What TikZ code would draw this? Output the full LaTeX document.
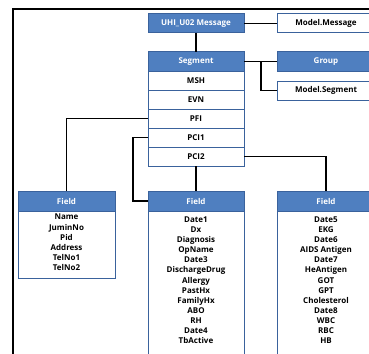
\documentclass[tikz,border=0pt]{standalone}
\usepackage{fontspec}
\setmainfont{Open Sans}
\usetikzlibrary{positioning}
\definecolor{hdrblue}{HTML}{4F7FC0}
\definecolor{edgeblue}{HTML}{3A629C}
\begin{document}
\begin{tikzpicture}[x=1pt,y=-1pt,
  txt/.style={font=\bfseries\fontsize{8}{10.1}\selectfont},
  hdr/.style={txt,draw=edgeblue,line width=1pt,fill=hdrblue,text=white,minimum width=96pt,minimum height=19pt,inner sep=0pt,outer sep=0pt},
  row/.style={txt,draw=edgeblue,line width=1pt,fill=white,minimum width=96pt,minimum height=19pt,inner sep=0pt,outer sep=0pt},
  wide/.style={minimum width=98pt},
  body/.style={draw=edgeblue,line width=1pt,fill=white,minimum width=96pt,inner sep=0pt,outer sep=0pt,anchor=north},
  items/.style={txt,align=center,anchor=north,inner sep=0pt},
  wire/.style={line width=1.6pt}]
\useasboundingbox (0,0) rectangle (369,353);
\draw[wire] (13,380) -- (13,9) -- (390,9);

\node[hdr] (msg) at (196,23.5) {UHI\_U02 Message};
\node[row,wide] (modelmsg) at (326,23.5) {Model.Message};

\node[hdr] (seg) at (196,61.5) {Segment};
\node[row,below=0pt of seg] (msh) {MSH};
\node[row,below=0pt of msh] (evn) {EVN};
\node[row,below=0pt of evn] (pfi) {PFI};
\node[row,below=0pt of pfi] (pcia) {PCI1};
\node[row,below=0pt of pcia] (pcib) {PCI2};

\node[hdr,wide] (grp) at (326,61.5) {Group};
\node[row,wide] (modelseg) at (326,90.5) {Model.Segment};

\node[hdr,minimum width=97pt,minimum height=20pt] (fielda) at (66.5,201) {Field};
\node[hdr,minimum height=20pt] (fieldb) at (196,201) {Field};
\node[hdr,wide,minimum height=20pt] (fieldc) at (326,201) {Field};

\node[body,minimum width=97pt,minimum height=67pt] (fieldabody) at (fielda.south) {};
\node[body,minimum height=170pt] (fieldbbody) at (fieldb.south) {};
\node[body,wide,minimum height=170pt] (fieldcbody) at (fieldc.south) {};

\node[items] (fieldaitems) at ([yshift=-3pt]fieldabody.north) {Name\\JuminNo\\Pid\\Address\\TelNo1\\TelNo2};
\node[items] (fieldbitems) at ([yshift=-5.5pt]fieldbbody.north) {Date1\\Dx\\Diagnosis\\OpName\\Date3\\DischargeDrug\\Allergy\\PastHx\\FamilyHx\\ABO\\RH\\Date4\\TbActive};
\node[items] (fieldcitems) at ([yshift=-5.5pt]fieldcbody.north) {Date5\\EKG\\Date6\\AIDS Antigen\\Date7\\HeAntigen\\GOT\\GPT\\Cholesterol\\Date8\\WBC\\RBC\\HB};

\coordinate (segjoin) at (261,61.5);
\coordinate (pciaturn) at ([xshift=-15pt]pcia.west);

\draw[wire] (msg) -- (modelmsg);
\draw[wire] (msg) -- (seg);
\draw[wire] (seg) -- (grp);
\draw[wire] (segjoin) |- (modelseg.west);
\draw[wire] (pfi.west) -| (fielda.north);
\draw[wire] (pcia.west) -- (pciaturn) |- (fieldb.west);
\draw[wire] (pcib) -- (fieldb);
\draw[wire] (pcib.east) -| (fieldc.north);
\end{tikzpicture}
\end{document}
